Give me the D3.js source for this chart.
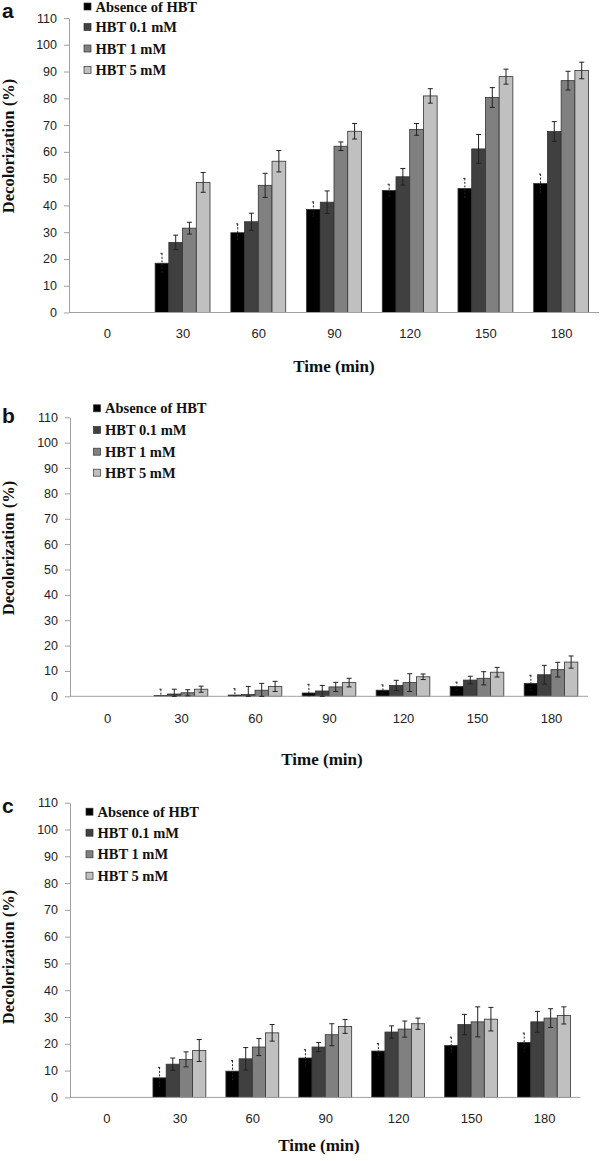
<!DOCTYPE html>
<html><head><meta charset="utf-8">
<script src="https://cdn.jsdelivr.net/npm/d3@7"></script>
<style>body{margin:0;background:#fff}svg{display:block}.serif{font-family:"Liberation Serif",serif}.sans{font-family:"Liberation Sans",sans-serif}</style>
</head><body>
<svg id="chart" width="600" height="1161"></svg>
<script>
const timeLabels = ["0","30","60","90","120","150","180"];
const seriesNames = ["Absence of HBT","HBT 0.1 mM","HBT 1 mM","HBT 5 mM"];
const seriesColors = ["#000000","#404040","#808080","#c0c0c0"];
const yTicks = [0,10,20,30,40,50,60,70,80,90,100,110];

// Panel a
const aAbsence = [0,18.4,29.8,38.5,45.6,46.3,48.2];
const aHBT01   = [0,26.2,33.9,41.2,50.7,61.1,67.6];
const aHBT1    = [0,31.5,47.5,62.1,68.4,80.3,86.6];
const aHBT5    = [0,48.6,56.5,67.7,80.9,88.1,90.4];
const aAbsenceErr = [0,3.7,3.3,2.8,2.3,3.8,3.5];
const aHBT01Err   = [0,2.7,3.2,4.2,3.1,5.4,3.7];
const aHBT1Err    = [0,2.2,4.5,1.6,2.2,3.7,3.5];
const aHBT5Err    = [0,3.7,4.0,2.9,2.7,2.8,3.1];

// Panel b
const bAbsence = [0,0.3,0.5,1.3,2.4,3.9,5.1];
const bHBT01   = [0,0.9,0.7,2.1,4.3,6.4,8.5];
const bHBT1    = [0,1.4,2.4,3.7,5.4,7.1,10.5];
const bHBT5    = [0,2.8,3.9,5.4,7.7,9.5,13.5];
const bAbsenceErr = [0,2.5,2.5,3.4,2.1,1.7,3.2];
const bHBT01Err   = [0,1.9,3.2,2.2,2.0,1.5,3.7];
const bHBT1Err    = [0,1.2,2.7,1.8,3.5,2.6,2.9];
const bHBT5Err    = [0,1.2,2.0,1.7,1.1,1.9,2.4];

// Panel c
const cAbsence = [0,7.3,9.8,14.7,17.3,19.4,20.5];
const cHBT01   = [0,12.4,14.4,18.8,24.4,27.2,28.2];
const cHBT1    = [0,14.2,18.8,23.4,25.5,28.2,29.6];
const cHBT5    = [0,17.5,24.1,26.5,27.5,29.2,30.6];
const cAbsenceErr = [0,3.9,3.9,3.1,2.8,3.1,3.5];
const cHBT01Err   = [0,2.3,4.2,1.7,2.3,3.8,3.9];
const cHBT1Err    = [0,2.8,3.2,4.1,3.0,5.6,3.5];
const cHBT5Err    = [0,4.1,3.1,2.6,2.1,4.4,3.2];

const panels = [
  {letter:"a", means:[aAbsence,aHBT01,aHBT1,aHBT5], errs:[aAbsenceErr,aHBT01Err,aHBT1Err,aHBT5Err],
   x0:69, x1:599, yTop:18, yBot:312.5, letterY:18,
   legX:84, legRows:[6.5,27,48.5,70], xLabY:338, titleX:334, titleY:372, yLabY:146},
  {letter:"b", means:[bAbsence,bHBT01,bHBT1,bHBT5], errs:[bAbsenceErr,bHBT01Err,bHBT1Err,bHBT5Err],
   x0:70, x1:588, yTop:417.3, yBot:696.3, letterY:423,
   legX:93.5, legRows:[408.3,430,451.7,472.7], xLabY:723, titleX:322, titleY:765, yLabY:548},
  {letter:"c", means:[cAbsence,cHBT01,cHBT1,cHBT5], errs:[cAbsenceErr,cHBT01Err,cHBT1Err,cHBT5Err],
   x0:70, x1:580.5, yTop:802.7, yBot:1097.4, letterY:813,
   legX:86, legRows:[811.7,832.7,854.3,875.7], xLabY:1123, titleX:319, titleY:1151, yLabY:957}
];

const svg = d3.select("#chart");

panels.forEach(p => {
  const g = svg.append("g");
  const x = d3.scalePoint().domain(timeLabels).range([p.x0, p.x1]).padding(0.5);
  const step = x.step();
  const gw = step * 0.725;
  const xs = d3.scaleBand().domain(seriesNames).range([-gw/2, gw/2]).paddingInner(0);
  const y = d3.scaleLinear().domain([0,110]).range([p.yBot, p.yTop]);

  // y axis
  const yAxis = d3.axisLeft(y).tickValues(yTicks).tickSize(5).tickSizeOuter(0).tickPadding(7);
  const ya = g.append("g").attr("transform", `translate(${p.x0},0)`).call(yAxis);
  ya.attr("font-family", null).attr("font-size", null);
  ya.select(".domain").attr("stroke","#a0a0a0");
  ya.selectAll(".tick line").attr("stroke","#a0a0a0");
  ya.selectAll(".tick text").attr("class","sans").attr("font-size", 12.5).attr("fill","#222");

  // bars
  seriesNames.forEach((s, si) => {
    const data = timeLabels.map((t, i) => ({t, v: p.means[si][i], e: p.errs[si][i]}));
    g.append("g").selectAll("rect").data(data).join("rect")
      .attr("x", d => x(d.t) + xs(s))
      .attr("y", d => y(d.v))
      .attr("width", xs.bandwidth())
      .attr("height", d => y(0) - y(d.v))
      .attr("fill", seriesColors[si])
      .attr("stroke", d => d.v > 0 ? "#333" : "none")
      .attr("stroke-width", 0.8);
  });

  // x axis
  const xAxis = d3.axisBottom(x).tickSize(0).tickPadding(0);
  const xa = g.append("g").attr("transform", `translate(0,${p.yBot})`).call(xAxis);
  xa.attr("font-family", null).attr("font-size", null);
  xa.select(".domain").attr("stroke","#a0a0a0").attr("d", `M${p.x0},0H${p.x1}`);
  xa.selectAll(".tick text").attr("class","sans").attr("font-size", 13).attr("fill","#222")
    .attr("y", p.xLabY - p.yBot).attr("dy", 0);

  // error bars
  seriesNames.forEach((s, si) => {
    const data = timeLabels.map((t, i) => ({t, v: p.means[si][i], e: p.errs[si][i]})).filter(d => d.e > 0);
    const eg = g.append("g").attr("stroke", "#222").attr("stroke-width", 1).attr("fill","none");
    const cx = d => x(d.t) + xs(s) + xs.bandwidth()/2;
    const cap = si === 0 ? 1.5 : 2.5;
    eg.selectAll("path").data(data).join("path")
      .attr("d", d => `M${cx(d)-cap},${y(d.v+d.e)}H${cx(d)+cap}M${cx(d)},${y(d.v+d.e)}V${y(Math.max(0,d.v-d.e))}` +
                       (si === 0 ? "" : `M${cx(d)-cap},${y(Math.max(0,d.v-d.e))}H${cx(d)+cap}`))
      .attr("stroke-dasharray", si === 0 ? "2,1.5" : null);
  });

  // legend
  seriesNames.forEach((s, si) => {
    const cy = p.legRows[si];
    g.append("rect").attr("x", p.legX).attr("y", cy - 3.5).attr("width", 7).attr("height", 7)
      .attr("fill", seriesColors[si]).attr("stroke", "#333").attr("stroke-width", 0.7);
    g.append("text").attr("class","serif").attr("x", p.legX + 11.5).attr("y", cy + 5)
      .attr("font-weight", "bold").attr("font-size", 14.5).attr("fill","#111")
      .text(s);
  });

  // panel letter
  g.append("text").attr("class","sans").attr("x", 2).attr("y", p.letterY).attr("font-weight","bold")
    .attr("font-size", 21).attr("fill","#111").text(p.letter);

  // axis titles
  g.append("text").attr("class","serif").attr("transform", `translate(14,${p.yLabY}) rotate(-90)`).attr("text-anchor","middle")
    .attr("font-weight","bold").attr("font-size", 16.5).attr("fill","#111")
    .text("Decolorization (%)");
  g.append("text").attr("class","serif").attr("x", p.titleX).attr("y", p.titleY).attr("text-anchor","middle")
    .attr("font-weight","bold").attr("font-size", 17).attr("fill","#111")
    .text("Time (min)");
});
</script>
</body></html>
